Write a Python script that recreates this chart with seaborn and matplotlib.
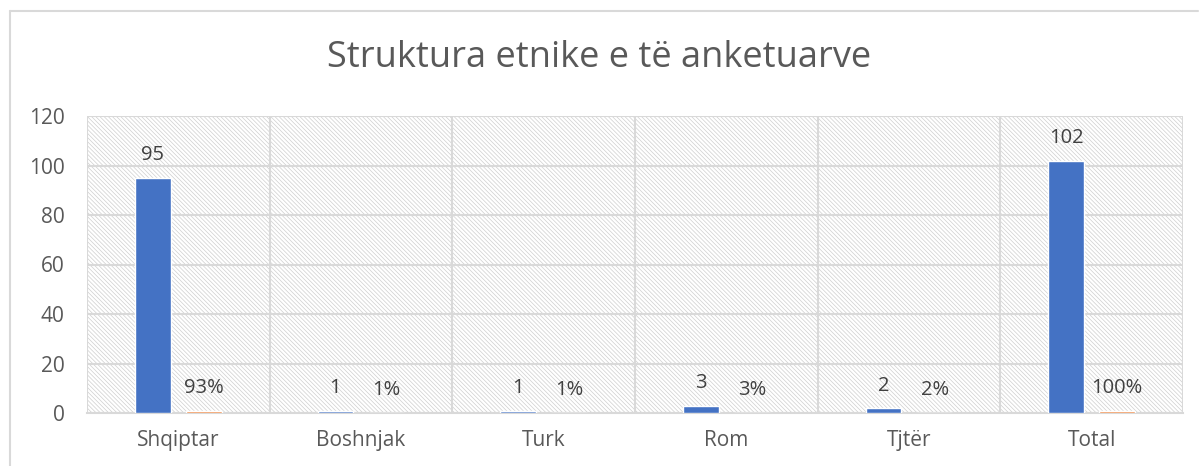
import matplotlib
matplotlib.use("Agg")
import matplotlib.pyplot as plt
import seaborn as sns
import pandas as pd
import numpy as np
from matplotlib.patches import Rectangle
from matplotlib.lines import Line2D

categories = ["Shqiptar", "Boshnjak", "Turk", "Rom", "Tjtër", "Total"]
counts = [95, 1, 1, 3, 2, 102]
shares = [0.93, 0.01, 0.01, 0.03, 0.02, 1.00]
series_names = ["Numri", "Përqindja"]
colors = ["#4472C4", "#ED7D31"]

df = pd.DataFrame({
    "cat": categories * 2,
    "value": counts + shares,
    "series": [series_names[0]] * len(categories) + [series_names[1]] * len(categories),
})

sns.set_theme(style="white")
plt.rcParams["font.family"] = ["Open Sans", "DejaVu Sans"]
plt.rcParams["hatch.color"] = "#CFCFCF"
plt.rcParams["hatch.linewidth"] = 0.5

fig = plt.figure(figsize=(11.99, 4.66), dpi=100)
ax = fig.add_axes([87/1199, 1 - 413/466, (1183 - 87)/1199, (413 - 116)/466])

# hatched background
bg = Rectangle((0, 0), 1, 1, transform=ax.transAxes, facecolor="white",
               edgecolor="#CFCFCF", hatch="\\" * 8, linewidth=0, zorder=0)
ax.add_patch(bg)
ax.set_facecolor("white")

sns.barplot(data=df, x="cat", y="value", hue="series", order=categories,
            hue_order=series_names, palette=colors, width=0.56, gap=0.3,
            ax=ax, legend=False, zorder=3, saturation=1)

# labels
for i, cont in enumerate(ax.containers):
    if i == 0:
        labels = [f"{v:g}" for v in counts]
    else:
        labels = [f"{round(v*100):d}%" for v in shares]
    ax.bar_label(cont, labels=labels, padding=9, fontsize=14.5, color="#404040")

ax.set_ylim(0, 120)
ax.set_xlim(-0.5, 5.5)
ax.set_yticks(np.arange(0, 121, 20))
ax.set_xticks(range(len(categories)))
ax.set_xticklabels(categories)
ax.set_xticks(np.arange(-0.5, 6, 1), minor=True)
ax.grid(axis="y", which="major", color="#D9D9D9", linewidth=1.5, zorder=1)
ax.grid(axis="x", which="minor", color="#D9D9D9", linewidth=1.5, zorder=1)
ax.grid(axis="x", which="major", visible=False)
ax.set_axisbelow(True)
for s in ["left", "right", "top"]:
    ax.spines[s].set_visible(False)
ax.spines["bottom"].set_color("#D9D9D9")
ax.spines["bottom"].set_linewidth(1.5)
ax.tick_params(axis="both", which="both", length=0, labelsize=15, colors="#595959")
ax.tick_params(axis="x", pad=12)
ax.tick_params(axis="y", pad=16)
ax.set_xlabel("")
ax.set_ylabel("")

fig.text(0.5, 1 - 58/466, "Struktura etnike e të anketuarve", ha="center", va="center",
         fontsize=26, color="#595959")

# chart border (left and top)
fig.add_artist(Line2D([10.5/1199, 10.5/1199], [0, 1 - 10.5/466], transform=fig.transFigure,
                      color="#D9D9D9", linewidth=1.5))
fig.add_artist(Line2D([10.5/1199, 1198/1199], [1 - 10.5/466, 1 - 10.5/466], transform=fig.transFigure,
                      color="#D9D9D9", linewidth=1.5))

fig.savefig("out.png", dpi=100)
